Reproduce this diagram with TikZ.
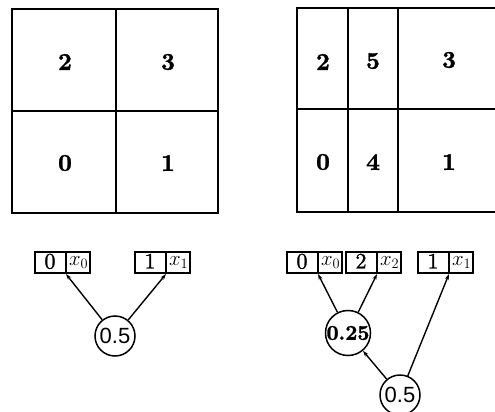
\documentclass[tikz,border=0pt]{standalone}
\usepackage{fontspec}
\newfontfamily\circfont{Liberation Sans}
\newfontfamily\cellfont{lmroman10-bold.otf}[FakeBold=1.5]
\newfontfamily\boxfont{lmroman10-regular.otf}[FakeBold=1.2]
\usetikzlibrary{arrows.meta,shapes.multipart}

\newcommand\bigtext{\fontsize{22}{26}\selectfont}
\newcommand\cellpair[2]{\makebox[26pt]{\bigtext\boxfont #1}\rule[-3pt]{0pt}{15pt}\nodepart{two}\bigtext$x_{#2}$}

\tikzset{
  cell/.style={font=\fontsize{24}{28}\cellfont},
  pair/.style={draw, line width=2pt, rectangle split, rectangle split horizontal,
    rectangle split parts=2, inner xsep=2pt, inner ysep=1.5pt, anchor=one split south},
  prob/.style={draw, circle, line width=1.5pt, minimum size=40pt, inner sep=0pt},
  link/.style={-{Stealth[length=6pt,width=4pt]}, line width=1.4pt}
}

\begin{document}
\begin{tikzpicture}[x=1pt,y=-1pt]
  \useasboundingbox (0,0) rectangle (495,412);
  % left subdivision
  \draw[line width=2.4pt] (12,9) rectangle (218,213);
  \draw[line width=2.4pt] (116,9) -- (116,213) (12,111) -- (218,111);
  \node[cell] (l2) at (65,62) {2};
  \node[cell] (l3) at (168,62) {3};
  \node[cell] (l0) at (65,163) {0};
  \node[cell] (l1) at (168,163) {1};
  % right subdivision
  \draw[line width=2.4pt] (495,8) -- (297,8) -- (297,212) -- (495,212);
  \draw[line width=2.4pt] (297,109) -- (495,109);
  \foreach \x in {348,398}{
    \draw[line width=2.4pt] (\x,8) -- (\x,212);
  }
  \node[cell] (r2) at (323,62) {2};
  \node[cell] (r5) at (373,61) {5};
  \node[cell] (r3) at (449,60) {3};
  \node[cell] (r0) at (323,162) {0};
  \node[cell] (r4) at (373,162) {4};
  \node[cell] (r1) at (449,162) {1};
  % left tree
  \node[pair] (a0) at (66,274) {\cellpair{0}{0}};
  \node[pair] (a1) at (166,274) {\cellpair{1}{1}};
  \node[prob, font=\fontsize{22}{26}\circfont] (ah) at (115,336) {0.5};
  \draw[link] (ah) -- (a0.one split south);
  \draw[link] (ah) -- (a1.one split south);
  % right tree
  \node[pair] (b0) at (318,274) {\cellpair{0}{0}};
  \node[pair] (b2) at (377,274) {\cellpair{2}{2}};
  \node[pair] (b1) at (449,274) {\cellpair{1}{1}};
  \node[prob, font=\fontsize{21}{25}\cellfont] (bq) at (348,333) {0.25};
  \node[prob, font=\fontsize{22}{26}\circfont] (bh) at (400,395) {0.5};
  \draw[link] (bq) -- (b0.one split south);
  \draw[link] (bq) -- (b2.one split south);
  \draw[link] (bh) -- (bq);
  \draw[link] (bh) -- (b1.one split south);
\end{tikzpicture}
\end{document}
